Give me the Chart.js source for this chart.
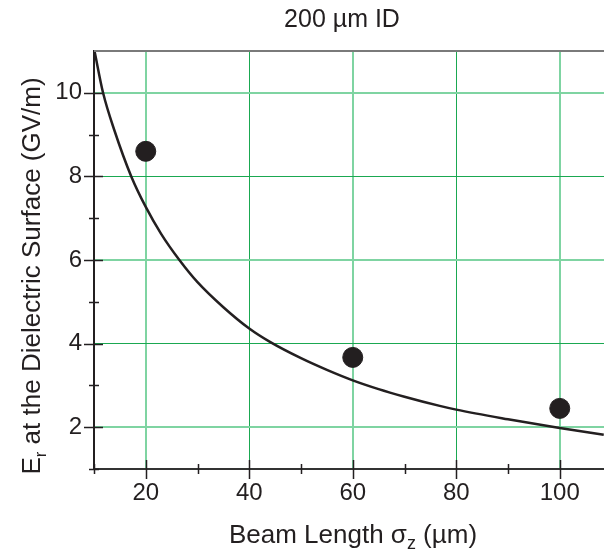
<!DOCTYPE html>
<html>
<head>
<meta charset="utf-8">
<script src="https://cdn.jsdelivr.net/npm/chart.js@4"></script>
<style>
  html, body { margin: 0; padding: 0; background: #fff; }
  canvas { display: block; }
</style>
</head>
<body>
<canvas id="chart" width="604" height="552"></canvas>
<script>
// measured field at the dielectric surface (GV/m) vs beam length (um)
var sigmaZ = [20, 60, 100];
var fieldEr = [8.6, 3.67, 2.45];

// theory curve
var curveX = [10.1, 11.75, 14, 17.2, 20, 23, 26.5, 30, 35, 40, 44, 50, 55, 60, 65, 70, 76.8, 80, 90, 100, 108.5];
var curveY = [11.0, 10.0, 9.08, 8.0, 7.27, 6.62, 6.0, 5.47, 4.87, 4.36, 4.04, 3.65, 3.37, 3.12, 2.91, 2.73, 2.51, 2.42, 2.19, 1.98, 1.82];

var xMajorTicks = [20, 40, 60, 80, 100];
var xMinorTicks = [10, 30, 50, 70, 90];
var yMajorTicks = [2, 4, 6, 8, 10];
var yMinorTicks = [1, 3, 5, 7, 9];

var ink = '#231f20';
var font = "'Liberation Sans', Arial, Helvetica, sans-serif";
var lightGreen = '#7fd4a2', darkGreen = '#1aa851';

// alternate grid lines look lighter and wider in the original
function isLight(ctx, step) {
  return ctx.tick && Math.round(ctx.tick.value / step) % 2 === 1;
}

var pts = [];
for (var i = 0; i < sigmaZ.length; i++) pts.push({x: sigmaZ[i], y: fieldEr[i]});
var curve = [];
for (var j = 0; j < curveX.length; j++) curve.push({x: curveX[j], y: curveY[j]});

var decor = {
  id: 'decor',
  // the plot runs right up to the canvas edge in the original
  afterLayout: function(chart) {
    var a = chart.chartArea, xs = chart.scales.x;
    a.right = chart.width;
    a.width = a.right - a.left;
    xs.right = chart.width;
    xs.width = xs.right - xs.left;
    xs.configure();
  },
  // frame line, tick marks through the axes, titles with subscripts
  afterDraw: function(chart) {
    var c = chart.ctx, a = chart.chartArea;
    var xs = chart.scales.x, ys = chart.scales.y;
    c.save();
    c.strokeStyle = '#7a7a7a';
    c.lineWidth = 2;
    c.beginPath();
    c.moveTo(a.left, a.top);
    c.lineTo(a.right, a.top);
    c.stroke();

    c.strokeStyle = ink;
    c.lineWidth = 1.5;
    c.beginPath();
    xMajorTicks.forEach(function(v) {
      var p = Math.round(xs.getPixelForValue(v)) + 0.5;
      c.moveTo(p, a.bottom - 9); c.lineTo(p, a.bottom + 10);
    });
    xMinorTicks.forEach(function(v) {
      var p = Math.round(xs.getPixelForValue(v)) + 0.5;
      c.moveTo(p, a.bottom - 5); c.lineTo(p, a.bottom + 5);
    });
    yMajorTicks.forEach(function(v) {
      var p = Math.round(ys.getPixelForValue(v)) + 0.5;
      c.moveTo(a.left - 10, p); c.lineTo(a.left + 9, p);
    });
    yMinorTicks.forEach(function(v) {
      var p = Math.round(ys.getPixelForValue(v)) + 0.5;
      c.moveTo(a.left - 5, p); c.lineTo(a.left + 5, p);
    });
    c.stroke();

    c.fillStyle = ink;
    c.textBaseline = 'alphabetic';

    // main title
    c.font = '25px ' + font;
    c.textAlign = 'center';
    c.fillText('200 \u00b5m ID', 342, 27);

    // x axis title
    c.textAlign = 'left';
    var big = '26px ' + font, small = '18px ' + font;
    var p1 = 'Beam Length \u03c3', p2 = 'z', p3 = ' (\u00b5m)';
    c.font = big; var w1 = c.measureText(p1).width, w3 = c.measureText(p3).width;
    c.font = small; var w2 = c.measureText(p2).width;
    var x0 = 353 - (w1 + w2 + w3) / 2;
    c.font = big; c.fillText(p1, x0, 543);
    c.font = small; c.fillText(p2, x0 + w1, 549);
    c.font = big; c.fillText(p3, x0 + w1 + w2, 543);

    // y axis title, rotated
    c.translate(40, 276);
    c.rotate(-Math.PI / 2);
    var bigY = '26px ' + font, smallY = '17px ' + font;
    var q1 = 'E', q2 = 'r', q3 = ' at the Dielectric Surface (GV/m)';
    c.font = bigY; var v1 = c.measureText(q1).width, v3 = c.measureText(q3).width;
    c.font = smallY; var v2 = c.measureText(q2).width;
    var y0 = -(v1 + v2 + v3) / 2;
    c.font = bigY; c.fillText(q1, y0, 0);
    c.font = smallY; c.fillText(q2, y0 + v1, 6);
    c.font = bigY; c.fillText(q3, y0 + v1 + v2, 0);
    c.restore();
  }
};

new Chart(document.getElementById('chart'), {
  type: 'scatter',
  data: {
    datasets: [{
      data: curve,
      showLine: true,
      borderColor: ink,
      borderWidth: 2.5,
      pointRadius: 0,
      cubicInterpolationMode: 'monotone',
      order: 2
    }, {
      data: pts,
      backgroundColor: ink,
      borderColor: ink,
      pointRadius: 10,
      pointHoverRadius: 10,
      order: 1
    }]
  },
  options: {
    responsive: false,
    animation: false,
    layout: { padding: { top: 51, right: 0, bottom: 0, left: 0 } },
    plugins: { legend: { display: false }, tooltip: { enabled: false } },
    scales: {
      x: {
        type: 'linear',
        min: 10,
        max: 108.55,
        afterBuildTicks: function(s) { s.ticks = xMajorTicks.map(function(v) { return {value: v}; }); },
        afterFit: function(s) { s.height = 83; },
        grid: {
          color: function(ctx) { return isLight(ctx, 20) ? lightGreen : darkGreen; },
          lineWidth: function(ctx) { return isLight(ctx, 20) ? 2 : 1; },
          drawTicks: false
        },
        border: { color: '#333', width: 2 },
        ticks: { color: ink, padding: 10, font: { size: 24, family: font }, maxRotation: 0 }
      },
      y: {
        type: 'linear',
        min: 1,
        max: 11,
        afterBuildTicks: function(s) { s.ticks = yMajorTicks.map(function(v) { return {value: v}; }); },
        afterFit: function(s) { s.width = 94; },
        grid: {
          color: function(ctx) { return isLight(ctx, 2) ? lightGreen : darkGreen; },
          lineWidth: function(ctx) { return isLight(ctx, 2) ? 2 : 1; },
          drawTicks: false
        },
        border: { color: ink, width: 2 },
        ticks: { color: ink, padding: 12, font: { size: 24, family: font } }
      }
    }
  },
  plugins: [decor]
});
</script>
</body>
</html>
